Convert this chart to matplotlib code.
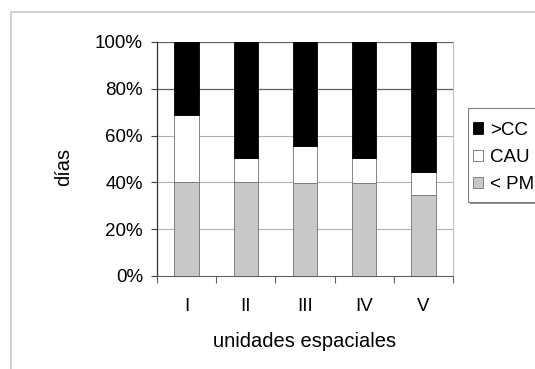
import matplotlib.pyplot as plt
import matplotlib.patches as mpatches
import numpy as np

plt.rcParams['font.family'] = ['Liberation Sans', 'DejaVu Sans']

# porcentaje de días por unidad espacial
unidades = ['I', 'II', 'III', 'IV', 'V']
pm = [40.3, 40.3, 39.6, 39.6, 34.7]    # < PM
cau = [28.4, 10.3, 16.0, 10.7, 9.6]    # CAU
cc = [31.3, 49.4, 44.4, 49.7, 55.7]    # >CC

W, H = 535, 369
fig = plt.figure(figsize=(W/100, H/100), dpi=100)
ax = fig.add_axes([157/W, 1-276/H, (453-157)/W, (276-42)/H])

# borde del área del gráfico
fig.patches.append(mpatches.Rectangle((11/W, -0.1), 1.2, 1-12/H+0.1, transform=fig.transFigure,
                                      fill=False, edgecolor='#c8c8c8', linewidth=1.2))

x = np.arange(len(unidades)) + 0.5
w = 0.41
pm = np.array(pm)
cau = np.array(cau)
cc = np.array(cc)
ax.bar(x, pm, w, color='#c8c8c8', edgecolor='#707070', linewidth=0.6, label='< PM', zorder=3)
ax.bar(x, cau, w, bottom=pm, color='white', edgecolor='#707070', linewidth=0.6, label='CAU', zorder=3)
ax.bar(x, cc, w, bottom=pm+cau, color='black', edgecolor='black', linewidth=0.6, label='>CC', zorder=3)

# líneas de división
for v in [20, 40, 60]:
    ax.axhline(v, color='#b0b0b0', linewidth=0.8, zorder=1)
for v in [80, 100]:
    ax.axhline(v, color='#606060', linewidth=0.9, zorder=1)

ax.set_xlim(0, 5)
ax.set_ylim(0, 100)
ax.set_yticks([0, 20, 40, 60, 80, 100])
ax.set_yticklabels(['0%', '20%', '40%', '60%', '80%', '100%'])
ax.set_xticks(x)
ax.set_xticklabels(unidades)
ax.set_xticks(np.arange(6), minor=True)
ax.tick_params(axis='x', which='major', length=0, labelsize=13.5, pad=16)
ax.tick_params(axis='x', which='minor', length=5, color='#606060', width=0.8)
ax.tick_params(axis='y', length=4, color='#404040', width=0.8, labelsize=13.5, pad=6)

ax.spines['top'].set_visible(False)
ax.spines['right'].set_color('#c0c0c0')
ax.spines['right'].set_linewidth(0.8)
ax.spines['left'].set_color('#303030')
ax.spines['bottom'].set_color('#606060')
ax.spines['left'].set_linewidth(0.9)
ax.spines['bottom'].set_linewidth(0.8)

ax.set_xlabel('unidades espaciales', fontsize=14.5, labelpad=12)
ax.set_ylabel('días', fontsize=14.5)
ax.yaxis.set_label_coords(-0.285, 0.466)

# marco de la leyenda con sombra
fig.patches.append(mpatches.Rectangle((470/W, 1-204/H), 0.2, 94/H, transform=fig.transFigure,
                                      facecolor='#909090', edgecolor='none', zorder=4))
fig.patches.append(mpatches.Rectangle((468/W, 1-202/H), 0.2, 94/H, transform=fig.transFigure,
                                      facecolor='white', edgecolor='#808080', linewidth=0.8, zorder=4))

h, l = ax.get_legend_handles_labels()
leg = fig.legend(h[::-1], l[::-1], loc='center left', bbox_to_anchor=(473/W, 1-157.5/H),
                 fontsize=13.5, frameon=False, handlelength=0.55, handleheight=0.55,
                 handletextpad=0.37, labelspacing=0.55, borderpad=0, borderaxespad=0)
leg.set_zorder(5)

fig.savefig('out.png', dpi=100)
